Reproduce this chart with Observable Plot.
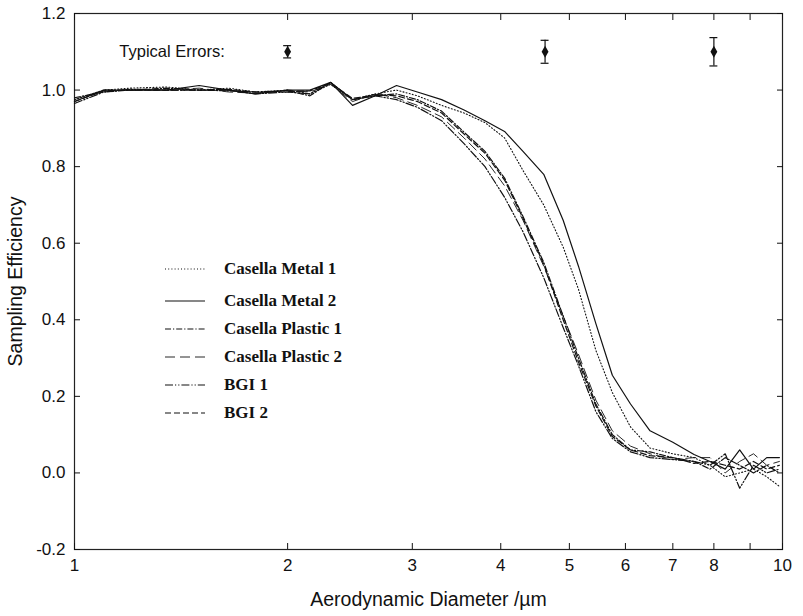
<!DOCTYPE html>
<html>
<head>
<meta charset="utf-8">
<script src="https://cdn.jsdelivr.net/npm/d3@7"></script>
<script src="https://cdn.jsdelivr.net/npm/@observablehq/plot@0.6"></script>
<style>
  html, body { margin: 0; padding: 0; background: #fff; }
  #wrap { position: relative; width: 803px; height: 616px; }
  #legend { position: absolute; left: 163px; top: 251px; font-family: "Liberation Serif", "DejaVu Serif", serif; font-weight: bold; font-size: 17px; color: #111; }
  #legend .row { display: flex; align-items: center; height: 28px; }
  #legend .row:first-child { height: 36px; }
  #legend svg { width: 44px; height: 10px; margin-right: 17px; }
</style>
</head>
<body>
<div id="wrap"><div id="chart"></div><div id="legend"></div></div>
<script>
// Aerodynamic diameter grid (µm)
const diameters = [1.0, 1.1, 1.2, 1.35, 1.5, 1.65, 1.8, 2.0, 2.15, 2.3, 2.47, 2.66,
  2.85, 3.05, 3.3, 3.55, 3.8, 4.05, 4.3, 4.6, 4.9, 5.15, 5.45, 5.75, 6.1, 6.5, 7.0, 7.5,
  7.9, 8.3, 8.7, 9.1, 9.5, 9.9];

const casellaMetal1 = [0.975, 1.0, 1.005, 1.008, 1.0, 1.005, 0.995, 1.0, 0.99, 1.015, 0.975, 0.99,
  1.0, 0.985, 0.96, 0.94, 0.915, 0.875, 0.79, 0.70, 0.59, 0.48, 0.32, 0.21, 0.12, 0.065, 0.05, 0.04,
  0.02, -0.01, 0.0, 0.01, -0.01, -0.035];
const casellaMetal2 = [0.97, 1.0, 1.0, 1.0, 1.012, 1.0, 0.99, 1.0, 1.0, 1.02, 0.96, 0.985,
  1.012, 0.995, 0.975, 0.948, 0.92, 0.892, 0.84, 0.78, 0.66, 0.54, 0.39, 0.255, 0.18, 0.11, 0.08, 0.048,
  0.03, 0.01, 0.06, 0.01, 0.04, 0.04];
const casellaPlastic1 = [0.98, 0.995, 1.0, 1.005, 1.0, 0.998, 0.995, 0.998, 0.985, 1.02, 0.975, 0.985,
  0.99, 0.975, 0.945, 0.89, 0.84, 0.77, 0.67, 0.55, 0.41, 0.30, 0.18, 0.10, 0.06, 0.055, 0.04, 0.03,
  0.01, 0.04, 0.02, 0.0, 0.02, 0.0];
const casellaPlastic2 = [0.975, 1.0, 1.0, 1.0, 1.005, 0.995, 0.992, 1.0, 0.995, 1.015, 0.97, 0.99,
  0.98, 0.96, 0.93, 0.875, 0.82, 0.75, 0.66, 0.54, 0.41, 0.31, 0.19, 0.11, 0.07, 0.05, 0.035, 0.04,
  0.04, 0.0, 0.03, 0.05, 0.02, 0.03];
const bgi1 = [0.965, 0.995, 1.002, 1.0, 1.0, 1.0, 0.99, 0.995, 0.99, 1.02, 0.975, 0.985,
  0.975, 0.955, 0.92, 0.86, 0.80, 0.72, 0.63, 0.51, 0.38, 0.28, 0.16, 0.09, 0.055, 0.04, 0.035, 0.03,
  0.02, 0.05, -0.04, 0.02, 0.0, 0.01];
const bgi2 = [0.97, 0.998, 1.0, 1.0, 1.0, 1.002, 0.995, 0.995, 0.998, 1.018, 0.978, 0.988,
  0.985, 0.97, 0.94, 0.885, 0.835, 0.765, 0.665, 0.545, 0.40, 0.29, 0.175, 0.095, 0.06, 0.045, 0.04, 0.025,
  0.03, 0.02, 0.01, 0.03, 0.01, 0.02];

const seriesNames = ["Casella Metal 1", "Casella Metal 2", "Casella Plastic 1", "Casella Plastic 2", "BGI 1", "BGI 2"];
const seriesValues = [casellaMetal1, casellaMetal2, casellaPlastic1, casellaPlastic2, bgi1, bgi2];
const seriesDash = ["1,2.2", null, "6,2,1.2,2", "10,5", "8,2,1.2,2,1.2,2", "6,3"];
const seriesWidth = [1.1, 1.2, 1.2, 0.9, 1.2, 1.2];

// Typical errors
const errorX = [2.0, 4.62, 8.0];
const errorY = [1.1, 1.1, 1.1];
const errorHalf = [0.016, 0.03, 0.037];
const errorLabel = {text: "Typical Errors:", x: 1.63, y: 1.1};

const yTicks = [-0.2, 0.0, 0.2, 0.4, 0.6, 0.8, 1.0, 1.2];
const xTicks = [1, 2, 3, 4, 5, 6, 7, 8, 9, 10];

const errors = errorX.map((x, i) => ({x, y: errorY[i], lo: errorY[i] - errorHalf[i], hi: errorY[i] + errorHalf[i]}));
const capF = 1.013;

const lineMarks = seriesNames.map((name, s) =>
  Plot.line(diameters.map((d, i) => ({x: d, y: seriesValues[s][i]})), {
    x: "x", y: "y", stroke: "#111", strokeWidth: seriesWidth[s],
    strokeDasharray: seriesDash[s] || undefined, curve: "linear"
  })
);

const font = "'Liberation Sans', Arial, sans-serif";

const chart = Plot.plot({
  width: 803,
  height: 616,
  marginLeft: 74,
  marginRight: 21,
  marginTop: 13,
  marginBottom: 67,
  style: {fontFamily: font, fontSize: "17px", color: "#111", background: "#fff"},
  x: {type: "log", domain: [1, 10], label: null},
  y: {domain: [-0.2, 1.2], label: null},
  marks: [
    Plot.frame({stroke: "#222", strokeWidth: 1.2}),
    // inward ticks on all four sides
    Plot.axisY(yTicks, {anchor: "left", tickSize: -6, fill: "none", label: null, strokeWidth: 1}),
    Plot.axisY(yTicks, {anchor: "right", tickSize: -6, fill: "none", label: null, strokeWidth: 1}),
    Plot.axisX(xTicks, {anchor: "bottom", tickSize: -6, fill: "none", label: null, strokeWidth: 1}),
    Plot.axisX(xTicks, {anchor: "top", tickSize: -6, fill: "none", label: null, strokeWidth: 1}),
    Plot.axisY(yTicks, {anchor: "left", tickSize: 0, tickPadding: 9, tickFormat: d => d3.format(".1f")(d).replace("−", "-"),
      fontSize: 17, label: "Sampling Efficiency", labelAnchor: "center", labelArrow: "none", labelOffset: 66}),
    Plot.axisX(xTicks, {anchor: "bottom", tickSize: 0, tickPadding: 9, tickFormat: d => String(d),
      fontSize: 17, label: "Aerodynamic Diameter /µm", labelAnchor: "center", labelArrow: "none", labelOffset: 56}),
    ...lineMarks,
    // error bars
    Plot.ruleX(errors, {x: "x", y1: "lo", y2: "hi", stroke: "#111", strokeWidth: 1.2}),
    Plot.ruleY(errors, {y: "lo", x1: d => d.x / capF, x2: d => d.x * capF, stroke: "#111", strokeWidth: 1.2}),
    Plot.ruleY(errors, {y: "hi", x1: d => d.x / capF, x2: d => d.x * capF, stroke: "#111", strokeWidth: 1.2}),
    Plot.dot(errors, {x: "x", y: "y", symbol: "diamond", r: 3.6, fill: "#111", stroke: "none"}),
    Plot.text([errorLabel], {x: "x", y: "y", text: "text", textAnchor: "end", fontSize: 16.5, fill: "#111"})
  ]
});
document.getElementById("chart").appendChild(chart);

// enlarge axis titles
chart.querySelectorAll("g[aria-label='y-axis label'], g[aria-label='x-axis label']").forEach(g => {
  g.setAttribute("font-size", "19.5");
  g.querySelectorAll("text").forEach(t => t.setAttribute("font-size", "19.5"));
});

// Legend overlay
const legend = document.getElementById("legend");
seriesNames.forEach((name, s) => {
  const row = document.createElement("div");
  row.className = "row";
  const dash = seriesDash[s] ? ` stroke-dasharray="${seriesDash[s]}"` : "";
  row.innerHTML = `<svg viewBox="0 0 44 10"><line x1="2" y1="5" x2="42" y2="5" stroke="#111" stroke-width="${seriesWidth[s]}"${dash}/></svg><span>${name}</span>`;
  legend.appendChild(row);
});
</script>
</body>
</html>
